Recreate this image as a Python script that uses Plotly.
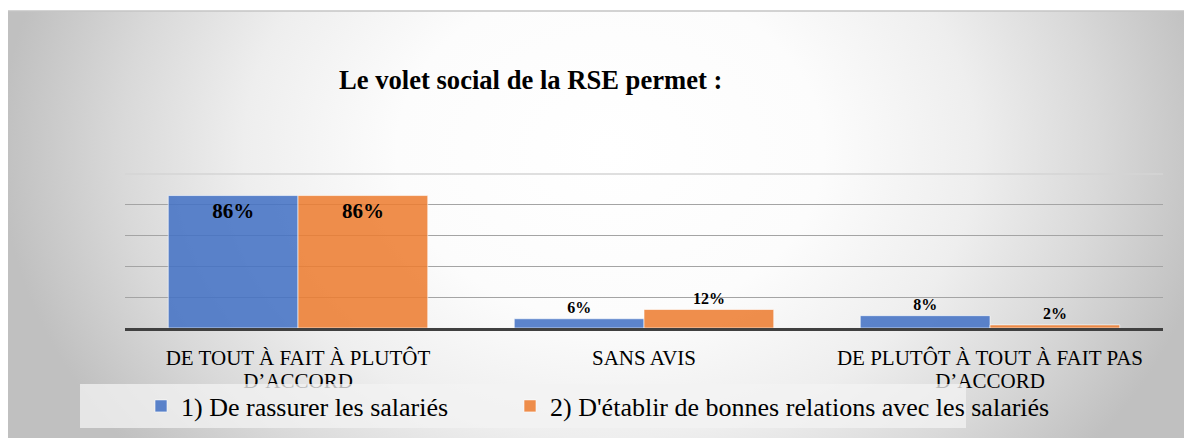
import plotly.graph_objects as go

# ---------------- data ----------------
categories = [
    "DE TOUT À FAIT À PLUTÔT<br>D’ACCORD",
    "SANS AVIS",
    "DE PLUTÔT À TOUT À FAIT PAS<br>D’ACCORD",
]
series_names = [
    "1) De rassurer les salariés",
    "2) D'établir de bonnes relations avec les salariés",
]
rassurer = [86, 6, 8]
relations = [86, 12, 2]
title_text = "Le volet social de la RSE permet :"

# page offset (the page body has an 8px margin)
OX, OY = 8, 8
W, H = 1184, 430
SERIF = "Liberation Serif"

def px(x):
    return (x - OX) / W

def py(y):
    return 1 - (y - OY) / H

fig = go.Figure()

# ---------------- background gradient (decoration) ----------------
cx, cy, rx, ry = 610, 150, 610, 480
fig.add_trace(go.Scatter(
    x=[cx - rx, cx + rx, cx + rx, cx - rx, cx - rx],
    y=[cy - ry, cy - ry, cy + ry, cy + ry, cy - ry],
    mode="lines", fill="toself", line=dict(width=0),
    fillgradient=dict(type="radial", colorscale=[
        [0.0, "#ffffff"], [0.35, "#fcfcfc"], [0.6, "#eeeeee"],
        [0.8, "#d9d9d9"], [1.0, "#c0c0c0"]]),
    hoverinfo="skip", showlegend=False, xaxis="x", yaxis="y",
))

# ---------------- bars ----------------
colors = ["rgba(68,114,196,0.87)", "rgba(237,125,49,0.87)"]
legends = ["legend", "legend2"]
for name, vals, col, lg in zip(series_names, [rassurer, relations], colors, legends):
    fig.add_trace(go.Bar(
        x=categories, y=vals, name=name, legend=lg,
        marker=dict(color=col, line=dict(color="rgba(255,255,255,0.6)", width=1)),
        text=[f"{v}%" for v in vals],
        textposition=["inside" if v > 50 else "outside" for v in vals],
        insidetextanchor="end",
        textfont=dict(family=SERIF, size=[21 if v > 50 else 16 for v in vals],
                      color="black", weight="bold"),
        cliponaxis=False,
        xaxis="x2", yaxis="y2",
    ))

legend_style = dict(orientation="h", xanchor="left", yanchor="middle",
                    bgcolor="rgba(0,0,0,0)",
                    font=dict(family=SERIF, size=26, color="black"))

# tick labels: larger glyphs inside a tighter base line spacing
tick_text = ["<br>".join(f"<span style='font-size:21px'>{part}</span>"
                         for part in c.split("<br>")) for c in categories]

fig.update_layout(
    width=W, height=H,
    margin=dict(l=0, r=0, t=0, b=0),
    paper_bgcolor="white", plot_bgcolor="rgba(0,0,0,0)",
    barmode="group", bargap=0.25, bargroupgap=0,
    xaxis=dict(domain=[px(8), 1], range=[8, 1192], visible=False, fixedrange=True),
    yaxis=dict(domain=[0, py(11)], range=[438, 11], visible=False, fixedrange=True),
    xaxis2=dict(domain=[px(125), px(1163)], anchor="y2",
                showline=True, linecolor="#404040", linewidth=3,
                showgrid=False, ticks="outside", ticklen=12,
                tickcolor="rgba(0,0,0,0)",
                tickvals=categories, ticktext=tick_text,
                tickfont=dict(family=SERIF, size=18, color="black")),
    yaxis2=dict(domain=[py(328), py(174)], anchor="x2", range=[0, 100],
                tickvals=[0, 20, 40, 60, 80], showticklabels=False,
                gridcolor="#a4a4a4", gridwidth=1, zeroline=False, showline=False),
    title=dict(text=f"<b>{title_text}</b>", x=px(339), xanchor="left", xref="paper",
               y=py(80), yanchor="middle", yref="paper",
               font=dict(family=SERIF, size=26.6, color="black")),
    legend=dict(x=px(141), y=py(406), **legend_style),
    legend2=dict(x=px(510), y=py(406), **legend_style),
    shapes=[
        dict(type="line", xref="x2 domain", yref="y2 domain", x0=0, x1=1, y0=1, y1=1,
             line=dict(color="#d4d4d4", width=1.5), layer="above"),
        dict(type="rect", xref="paper", yref="paper", x0=px(80), x1=px(966),
             y0=py(428), y1=py(384), fillcolor="rgba(243,243,243,0.75)",
             line=dict(width=0), layer="above"),
        dict(type="line", xref="paper", yref="paper", x0=px(8), x1=1, y0=py(11), y1=py(11),
             line=dict(color="#c4c4c4", width=1.5), layer="above"),
    ],
)

fig.write_html("out.html")
